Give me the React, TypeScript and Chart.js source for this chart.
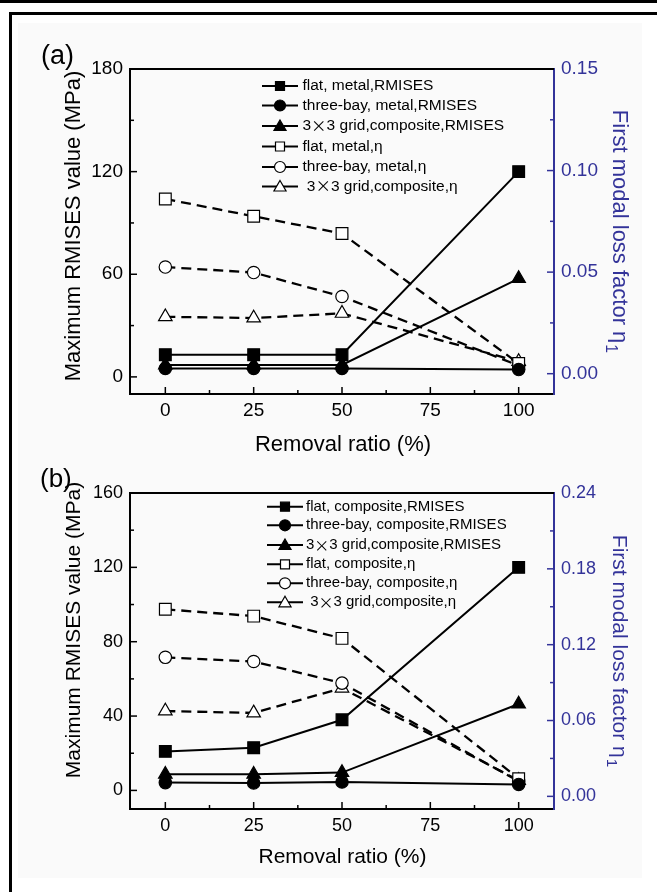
import React, { useEffect, useRef } from 'react';
import { Chart, registerables } from 'chart.js';

Chart.register(...registerables);

// ---------- data ----------
const removalRatio = [0, 25, 50, 100];

// panel (a)
const aFlatMetalRmises = [13, 13, 13, 120];
const aThreeBayMetalRmises = [4.9, 4.9, 4.9, 4.3];
const aGridCompositeRmises = [7, 7, 7, 57.5];
const aFlatMetalEta = [0.086, 0.0775, 0.069, 0.005];
const aThreeBayMetalEta = [0.0525, 0.0498, 0.038, 0.004];
const aGridCompositeEta = [0.028, 0.0274, 0.0297, 0.006];
const aLabels = [
  'flat, metal,RMISES',
  'three-bay, metal,RMISES',
  '3×3 grid,composite,RMISES',
  'flat, metal,η',
  'three-bay, metal,η',
  ' 3×3 grid,composite,η',
];

// panel (b)
const bFlatCompositeRmises = [21, 23, 38, 120];
const bThreeBayCompositeRmises = [4.2, 4.0, 4.5, 3.2];
const bGridCompositeRmises = [8.7, 8.7, 9.6, 46.5];
const bFlatCompositeEta = [0.148, 0.1426, 0.125, 0.014];
const bThreeBayCompositeEta = [0.11, 0.1067, 0.0896, 0.012];
const bGridCompositeEta = [0.0675, 0.066, 0.0856, 0.0126];
const bLabels = [
  'flat, composite,RMISES',
  'three-bay, composite,RMISES',
  '3×3 grid,composite,RMISES',
  'flat, composite,η',
  'three-bay, composite,η',
  ' 3×3 grid,composite,η',
];

// ticks
const xMajor = [0, 25, 50, 75, 100];
const xMinor = [12.5, 37.5, 62.5, 87.5];
const aLeftMajor = [0, 60, 120, 180];
const aLeftMinor = [30, 90, 150];
const aRightMajor = [0, 0.05, 0.1, 0.15];
const aRightMinor = [0.025, 0.075, 0.125];
const bLeftMajor = [0, 40, 80, 120, 160];
const bLeftMinor = [20, 60, 100, 140];
const bRightMajor = [0, 0.06, 0.12, 0.18, 0.24];
const bRightMinor = [0.03, 0.09, 0.15, 0.21];

const xTitle = 'Removal ratio (%)';
const leftTitle = 'Maximum RMISES value (MPa)';
const rightTitle = 'First modal loss factor η';
const rightTitleSub = '1';

// ---------- styles ----------
const BLUE = '#333399';
const FONT = "'Liberation Sans', Arial, sans-serif";
const CJK = "'Noto Sans CJK SC', 'Liberation Sans'";

type Style = 'rect' | 'circle' | 'triangle';
const seriesStyles: { style: Style; filled: boolean; axis: 'yL' | 'yR'; dashed: boolean }[] = [
  { style: 'rect', filled: true, axis: 'yL', dashed: false },
  { style: 'circle', filled: true, axis: 'yL', dashed: false },
  { style: 'triangle', filled: true, axis: 'yL', dashed: false },
  { style: 'rect', filled: false, axis: 'yR', dashed: true },
  { style: 'circle', filled: false, axis: 'yR', dashed: true },
  { style: 'triangle', filled: false, axis: 'yR', dashed: true },
];
const pointRadius: Record<Style, number> = { rect: 8.3, circle: 6.2, triangle: 7.8 };

type Panel = {
  canvasLeft: number; canvasTop: number; width: number; height: number;
  area: { left: number; top: number; right: number; bottom: number };
  yL: { min: number; max: number; major: number[]; minor: number[] };
  yR: { min: number; max: number; major: number[]; minor: number[] };
  tickFont: number; titleFont: number; legendFont: number; xPad: number;
  label: string; labelFont: number; labelPos: [number, number];
  leftTitleX: number; leftTitleY: number;
  rightTitleX: number; rightTitleY: number;
  bottomTitleX: number; bottomTitleY: number;
  legend: { x0: number; x1: number; mx: number; tx: number; rows: number[] };
  labels: string[];
  values: number[][];
};

const panels: Panel[] = [
  {
    canvasLeft: 17, canvasTop: 22, width: 625, height: 440,
    area: { left: 130, top: 69, right: 554, bottom: 394 },
    yL: { min: -10, max: 180, major: aLeftMajor, minor: aLeftMinor },
    yR: { min: -0.01, max: 0.15, major: aRightMajor, minor: aRightMinor },
    tickFont: 19, titleFont: 22, legendFont: 15.5, xPad: 5,
    label: '(a)', labelFont: 27, labelPos: [41, 64],
    leftTitleX: 79.5, leftTitleY: 226,
    rightTitleX: 612.5, rightTitleY: 231,
    bottomTitleX: 343, bottomTitleY: 451,
    legend: { x0: 262, x1: 298, mx: 280, tx: 302.5, rows: [86, 105.5, 126, 146.5, 167, 186.5] },
    labels: aLabels,
    values: [aFlatMetalRmises, aThreeBayMetalRmises, aGridCompositeRmises, aFlatMetalEta, aThreeBayMetalEta, aGridCompositeEta],
  },
  {
    canvasLeft: 17, canvasTop: 462, width: 625, height: 416,
    area: { left: 130, top: 493, right: 554, bottom: 809 },
    yL: { min: -10, max: 160, major: bLeftMajor, minor: bLeftMinor },
    yR: { min: -0.01, max: 0.24, major: bRightMajor, minor: bRightMinor },
    tickFont: 18, titleFont: 21, legendFont: 15, xPad: 6.5,
    label: '(b)', labelFont: 26, labelPos: [40, 487],
    leftTitleX: 79.5, leftTitleY: 630,
    rightTitleX: 612.5, rightTitleY: 650.5,
    bottomTitleX: 342.5, bottomTitleY: 863,
    legend: { x0: 267, x1: 303, mx: 285, tx: 306, rows: [506.7, 525.3, 545, 564.3, 583.3, 602.3] },
    labels: bLabels,
    values: [bFlatCompositeRmises, bThreeBayCompositeRmises, bGridCompositeRmises, bFlatCompositeEta, bThreeBayCompositeEta, bGridCompositeEta],
  },
];

function drawMarker(ctx: CanvasRenderingContext2D, style: Style, x: number, y: number, r: number, filled: boolean) {
  ctx.beginPath();
  if (style === 'rect') {
    ctx.rect(x - r, y - r, 2 * r, 2 * r);
  } else if (style === 'circle') {
    ctx.arc(x, y, r, 0, Math.PI * 2);
  } else {
    ctx.moveTo(x, y - r);
    ctx.lineTo(x + r * 0.866, y + r * 0.5);
    ctx.lineTo(x - r * 0.866, y + r * 0.5);
    ctx.closePath();
  }
  ctx.fillStyle = filled ? '#000' : '#fff';
  ctx.fill();
  ctx.lineWidth = 1.2;
  ctx.strokeStyle = '#000';
  ctx.setLineDash([]);
  ctx.stroke();
}

function drawMixedText(ctx: CanvasRenderingContext2D, text: string, x: number, y: number, size: number) {
  const parts = text.split('×');
  let cx = x;
  parts.forEach((p, i) => {
    ctx.font = `${size}px ${FONT}`;
    ctx.fillText(p, cx, y);
    cx += ctx.measureText(p).width;
    if (i < parts.length - 1) {
      ctx.font = `${size}px ${CJK}`;
      ctx.fillText('×', cx, y);
      cx += ctx.measureText('×').width;
    }
  });
}

function makeDecoPlugin(p: Panel) {
  return {
    id: 'deco',
    afterDraw(chart: any) {
      const ctx: CanvasRenderingContext2D = chart.ctx;
      const ca = chart.chartArea;
      ctx.save();
      // inward ticks
      const tick = (scale: any, vals: number[], len: number, color: string, side: string) => {
        ctx.strokeStyle = color;
        ctx.lineWidth = 1.5;
        ctx.setLineDash([]);
        vals.forEach((v) => {
          const px = scale.getPixelForValue(v);
          ctx.beginPath();
          if (side === 'bottom') { ctx.moveTo(px, ca.bottom); ctx.lineTo(px, ca.bottom - len); }
          if (side === 'left') { ctx.moveTo(ca.left, px); ctx.lineTo(ca.left + len, px); }
          if (side === 'right') { ctx.moveTo(ca.right, px); ctx.lineTo(ca.right - len, px); }
          ctx.stroke();
        });
      };
      tick(chart.scales.x, xMajor, 7, '#000', 'bottom');
      tick(chart.scales.x, xMinor, 4, '#000', 'bottom');
      tick(chart.scales.yL, p.yL.major, 7, '#000', 'left');
      tick(chart.scales.yL, p.yL.minor, 4, '#000', 'left');
      tick(chart.scales.yR, p.yR.major, 7, BLUE, 'right');
      tick(chart.scales.yR, p.yR.minor, 4, BLUE, 'right');
      // top frame line
      ctx.strokeStyle = '#000';
      ctx.lineWidth = 2;
      ctx.beginPath();
      ctx.moveTo(ca.left - 1, ca.top);
      ctx.lineTo(ca.right, ca.top);
      ctx.stroke();

      // page coordinates from here
      ctx.translate(-p.canvasLeft, -p.canvasTop);
      ctx.fillStyle = '#000';
      // panel label
      ctx.font = `${p.labelFont}px ${FONT}`;
      ctx.textAlign = 'left';
      ctx.textBaseline = 'alphabetic';
      ctx.fillText(p.label, p.labelPos[0], p.labelPos[1]);

      // left title
      ctx.save();
      ctx.translate(p.leftTitleX, p.leftTitleY);
      ctx.rotate(-Math.PI / 2);
      ctx.font = `${p.titleFont}px ${FONT}`;
      ctx.textAlign = 'center';
      ctx.fillText(leftTitle, 0, 0);
      ctx.restore();

      // right title with subscript
      ctx.save();
      ctx.translate(p.rightTitleX, p.rightTitleY);
      ctx.rotate(Math.PI / 2);
      ctx.fillStyle = BLUE;
      ctx.font = `${p.titleFont}px ${FONT}`;
      const mainW = ctx.measureText(rightTitle).width;
      ctx.font = `${p.titleFont * 0.72}px ${FONT}`;
      const subW = ctx.measureText(rightTitleSub).width;
      const start = -(mainW + subW) / 2;
      ctx.textAlign = 'left';
      ctx.font = `${p.titleFont}px ${FONT}`;
      ctx.fillText(rightTitle, start, 0);
      ctx.font = `${p.titleFont * 0.72}px ${FONT}`;
      ctx.fillText(rightTitleSub, start + mainW + 1, p.titleFont * 0.28);
      ctx.restore();

      // bottom title
      ctx.font = `${p.titleFont}px ${FONT}`;
      ctx.textAlign = 'center';
      ctx.fillStyle = '#000';
      ctx.fillText(xTitle, p.bottomTitleX, p.bottomTitleY);

      // legend
      ctx.textAlign = 'left';
      ctx.textBaseline = 'middle';
      p.labels.forEach((lab, i) => {
        const y = p.legend.rows[i];
        const st = seriesStyles[i];
        ctx.strokeStyle = '#000';
        ctx.lineWidth = 2;
        ctx.setLineDash([]);
        ctx.beginPath();
        ctx.moveTo(p.legend.x0, y);
        ctx.lineTo(p.legend.x1, y);
        ctx.stroke();
        const r = st.style === 'rect' ? 4.5 : st.style === 'circle' ? 5.5 : 7;
        drawMarker(ctx, st.style, p.legend.mx, st.style === 'triangle' ? y + 1 : y, r, st.filled);
        ctx.fillStyle = '#000';
        drawMixedText(ctx, lab, p.legend.tx, y, p.legendFont);
      });
      ctx.restore();
    },
  };
}

function buildConfig(p: Panel): any {
  const ca = { left: p.area.left - p.canvasLeft, top: p.area.top - p.canvasTop, right: p.area.right - p.canvasLeft, bottom: p.area.bottom - p.canvasTop };
  const leftW = ca.left;
  const rightW = p.width - ca.right;
  const bottomH = p.height - ca.bottom;
  const tickFont = { family: FONT, size: p.tickFont };
  const datasets = p.values.map((vals, i) => {
    const st = seriesStyles[i];
    return {
      label: p.labels[i],
      data: removalRatio.map((x, j) => ({ x, y: vals[j] })),
      yAxisID: st.axis,
      borderColor: '#000',
      borderWidth: st.dashed ? 2.3 : 2,
      borderDash: st.dashed ? [10, 6] : [],
      fill: false,
      tension: 0,
      pointStyle: st.style,
      pointRadius: pointRadius[st.style],
      pointBackgroundColor: st.filled ? '#000' : '#fff',
      pointBorderColor: '#000',
      pointBorderWidth: 1.2,
      clip: false,
    };
  });
  return {
    type: 'line',
    data: { datasets },
    options: {
      animation: false,
      responsive: false,
      devicePixelRatio: 1,
      layout: { padding: { top: ca.top, left: 0, right: 0, bottom: 0 } },
      plugins: { legend: { display: false }, tooltip: { enabled: false } },
      scales: {
        x: {
          type: 'linear', position: 'bottom', min: -10, max: 110,
          afterBuildTicks: (s: any) => { s.ticks = xMajor.map((v) => ({ value: v })); },
          afterFit: (s: any) => { s.height = bottomH; },
          grid: { display: false, drawTicks: false },
          border: { display: true, color: '#000', width: 2 },
          ticks: { font: tickFont, color: '#000', padding: p.xPad, maxRotation: 0, autoSkip: false, callback: (v: number) => String(v) },
        },
        yL: {
          type: 'linear', position: 'left', min: p.yL.min, max: p.yL.max,
          afterBuildTicks: (s: any) => { s.ticks = p.yL.major.map((v) => ({ value: v })); },
          afterFit: (s: any) => { s.width = leftW; },
          grid: { display: false, drawTicks: false },
          border: { display: true, color: '#000', width: 2 },
          ticks: { font: tickFont, color: '#000', padding: 7, autoSkip: false, callback: (v: number) => String(v) },
        },
        yR: {
          type: 'linear', position: 'right', min: p.yR.min, max: p.yR.max,
          afterBuildTicks: (s: any) => { s.ticks = p.yR.major.map((v) => ({ value: v })); },
          afterFit: (s: any) => { s.width = rightW; },
          grid: { display: false, drawTicks: false },
          border: { display: true, color: BLUE, width: 2 },
          ticks: { font: tickFont, color: BLUE, padding: 7, autoSkip: false, callback: (v: number) => v.toFixed(2) },
        },
      },
    },
    plugins: [makeDecoPlugin(p)],
  };
}

function PanelChart({ p }: { p: Panel }) {
  const ref = useRef<HTMLCanvasElement>(null);
  useEffect(() => {
    if (!ref.current) return;
    const chart = new Chart(ref.current, buildConfig(p));
    return () => chart.destroy();
  }, [p]);
  return (
    <canvas
      ref={ref}
      width={p.width}
      height={p.height}
      style={{ position: 'absolute', left: p.canvasLeft, top: p.canvasTop, width: p.width, height: p.height }}
    />
  );
}

export default function App() {
  return (
    <div style={{ position: 'absolute', left: 0, top: 0, width: 657, height: 892, background: '#fff', overflow: 'hidden' }}>
      <div style={{ position: 'absolute', left: 0, top: 0, width: 657, height: 3, background: '#000' }} />
      <div style={{ position: 'absolute', left: 9, top: 12, width: 648, height: 3, background: '#000' }} />
      <div style={{ position: 'absolute', left: 9, top: 12, width: 3, height: 880, background: '#000' }} />
      <div style={{ position: 'absolute', left: 18, top: 23, width: 624, height: 855, background: '#fafafa' }} />
      {panels.map((p, i) => (
        <PanelChart key={i} p={p} />
      ))}
    </div>
  );
}
